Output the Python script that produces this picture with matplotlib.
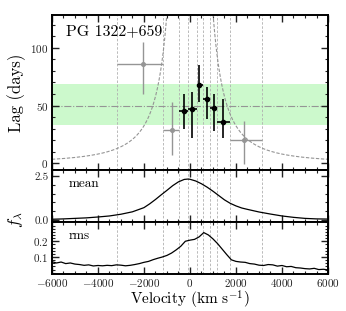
#!/usr/bin/env python3
# -*- coding: utf-8 -*-

import numpy as np
import matplotlib
matplotlib.use("Agg")
import matplotlib.pyplot as plt
from matplotlib.ticker import MultipleLocator, FormatStrFormatter

# ---------------- DATA ----------------
OBJ_NAME = "PG 1322+659"

# velocity bin edges (km/s)
BIN_EDGES = [-3190, -1160, -465, -100, 290, 555, 870, 1160, 1740, 3140]

# lag per bin (days)
LAG_VEL   = [-2030, -770, -260, 100, 405, 725, 1045, 1450, 2360]
LAG       = [86.0, 29.0, 45.4, 47.0, 68.0, 55.7, 47.7, 35.6, 20.4]
LAG_UP    = [19.0, 24.0, 15.0, 15.0, 17.0, 10.0, 12.0, 20.0, 16.0]
LAG_DN    = [26.0, 22.0, 16.0, 25.0, 15.0, 17.0, 20.0, 14.0, 21.0]
GOOD      = [False, False, True, True, True, True, True, True, False]

# mean lag and its range
LAG_MEAN = 50.0
LAG_BAND = (33.0, 69.0)

# virial envelope constant: lag = VIR_C / v^2 (days km^2 s^-2)
VIR_C = 1.3e8

# mean spectrum
MEAN_VEL = [-6000, -5500, -5000, -4500, -4000, -3500, -3000, -2500, -2000,
            -1750, -1500, -1250, -1000, -750, -500, -250, -100, 0, 250, 500,
            750, 1000, 1250, 1500, 1750, 2000, 2250, 2500, 3000, 3500, 4000,
            4500, 5000, 5500, 6000]
MEAN_FLUX = [0.03, 0.05, 0.08, 0.11, 0.16, 0.22, 0.32, 0.46, 0.70,
             0.92, 1.17, 1.44, 1.70, 1.97, 2.19, 2.33, 2.35, 2.34, 2.24, 2.08,
             1.88, 1.65, 1.40, 1.15, 0.95, 0.80, 0.68, 0.60, 0.45, 0.33, 0.22,
             0.14, 0.08, 0.05, 0.04]

# rms spectrum
RMS_VEL = list(range(-6000, 6001, 200))
RMS_FLUX = [0.070, 0.062, 0.068, 0.058, 0.062, 0.055, 0.052, 0.047, 0.050, 0.043,
            0.046, 0.044, 0.047, 0.045, 0.050, 0.048, 0.044, 0.047, 0.052, 0.058,
            0.066, 0.072, 0.083, 0.092, 0.100, 0.110, 0.125, 0.145, 0.168, 0.200,
            0.207, 0.212, 0.228, 0.255, 0.240, 0.215, 0.185, 0.150, 0.115, 0.082,
            0.072, 0.068, 0.066, 0.058, 0.055, 0.048, 0.046, 0.052, 0.050, 0.042,
            0.046, 0.038, 0.040, 0.032, 0.030, 0.026, 0.024, 0.028, 0.020, 0.022,
            0.018]
# --------------------------------------

plt.rcParams.update({
    "font.family": "serif",
    "font.serif": ["cmr10", "DejaVu Serif"],
    "mathtext.fontset": "cm",
    "axes.formatter.use_mathtext": True,
    "axes.unicode_minus": True,
    "axes.linewidth": 1.4,
    "xtick.direction": "in",
    "ytick.direction": "in",
    "xtick.top": True,
    "ytick.right": True,
    "xtick.major.size": 5,
    "ytick.major.size": 5,
    "xtick.minor.size": 2.5,
    "ytick.minor.size": 2.5,
    "xtick.major.width": 1.0,
    "ytick.major.width": 1.0,
    "xtick.minor.width": 0.8,
    "ytick.minor.width": 0.8,
    "xtick.major.pad": 2.0,
    "ytick.major.pad": 2.5,
    "xtick.labelsize": 8,
    "ytick.labelsize": 8,
    "xtick.color": "#222222",
    "ytick.color": "#222222",
})

GRAY = "#959595"
LINE_GRAY = "#b0b0b0"

fig = plt.figure(figsize=(3.46, 3.11), dpi=100)
ax1 = fig.add_axes([0.150, 0.452, 0.798, 0.499])
ax2 = fig.add_axes([0.150, 0.285, 0.798, 0.167], sharex=ax1)
ax3 = fig.add_axes([0.150, 0.118, 0.798, 0.167], sharex=ax1)

for ax in (ax1, ax2, ax3):
    for e in BIN_EDGES:
        ax.axvline(e, color=LINE_GRAY, ls="--", lw=0.6, dashes=(3, 2), zorder=1)
    ax.xaxis.set_major_locator(MultipleLocator(2000))
    ax.xaxis.set_minor_locator(MultipleLocator(500))

# top: lags
ax1.axhspan(LAG_BAND[0], LAG_BAND[1], color="#ccf9cc", lw=0, zorder=0)
ax1.axhline(LAG_MEAN, color=GRAY, ls="-.", lw=0.8, zorder=1)

v = np.linspace(-6000, 6000, 2001)
v = v[np.abs(v) > 200]
vl = v[v < 0]
vr = v[v > 0]
ax1.plot(vl, VIR_C / vl ** 2, color=GRAY, ls="--", lw=0.8, dashes=(3, 1.5), zorder=2)
ax1.plot(vr, VIR_C / vr ** 2, color=GRAY, ls="--", lw=0.8, dashes=(3, 1.5), zorder=2)

for i in range(len(LAG)):
    lo = LAG_VEL[i] - BIN_EDGES[i]
    hi = BIN_EDGES[i + 1] - LAG_VEL[i]
    c = "black" if GOOD[i] else GRAY
    lw = 1.2 if GOOD[i] else 1.0
    ax1.errorbar([LAG_VEL[i]], [LAG[i]],
                 xerr=[[lo], [hi]], yerr=[[LAG_DN[i]], [LAG_UP[i]]],
                 fmt="o", ms=3.0 if GOOD[i] else 2.6, color=c, ecolor=c,
                 elinewidth=lw, capsize=0, zorder=4)

ax1.set_xlim(-6000, 6000)
ax1.set_ylim(-6, 128)
ax1.yaxis.set_major_locator(MultipleLocator(50))
ax1.yaxis.set_minor_locator(MultipleLocator(10))
ax1.set_ylabel("Lag (days)", fontsize=12, labelpad=3)
ax1.text(0.05, 0.94, OBJ_NAME, transform=ax1.transAxes, fontsize=11.5,
         ha="left", va="top")
plt.setp(ax1.get_xticklabels(), visible=False)

# middle: mean spectrum
ax2.plot(MEAN_VEL, MEAN_FLUX, color="black", lw=0.9, zorder=3)
ax2.set_ylim(-0.15, 2.85)
ax2.set_yticks([0.0, 2.5])
ax2.yaxis.set_minor_locator(MultipleLocator(0.5))
ax2.yaxis.set_major_formatter(FormatStrFormatter("%.1f"))
ax2.text(0.06, 0.86, "mean", transform=ax2.transAxes, fontsize=9.5,
         ha="left", va="top")
plt.setp(ax2.get_xticklabels(), visible=False)

# bottom: rms spectrum
ax3.plot(RMS_VEL, RMS_FLUX, color="black", lw=0.9, zorder=3)
ax3.set_ylim(-0.01, 0.32)
ax3.set_yticks([0.1, 0.2])
ax3.yaxis.set_minor_locator(MultipleLocator(0.02))
ax3.text(0.06, 0.86, "rms", transform=ax3.transAxes, fontsize=9.5,
         ha="left", va="top")
ax3.set_xlabel(r"Velocity (km s$^{-1}$)", fontsize=11, labelpad=0)

fig.text(0.045, 0.292, r"$f_\lambda$", fontsize=12, rotation=90,
         ha="center", va="center")

fig.savefig("out.png", dpi=100)
